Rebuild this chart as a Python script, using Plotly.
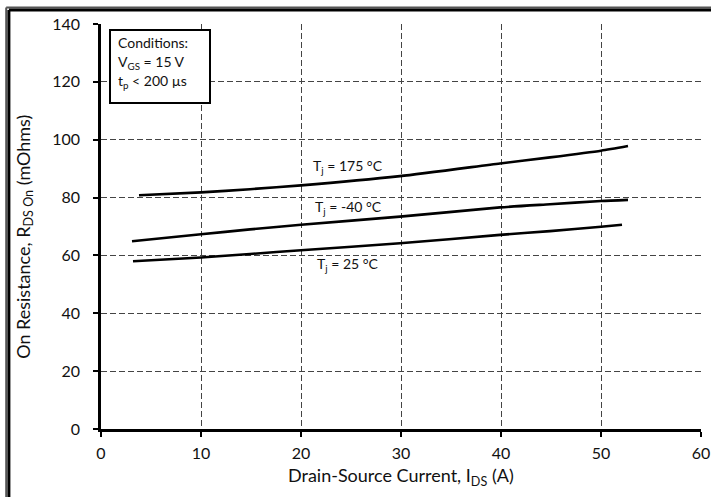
import plotly.graph_objects as go

# On-resistance vs drain-source current at three junction temperatures
i_175 = [3.8, 10, 14.9, 20, 29.9, 39.9, 44.9, 50, 52.7]
r_175 = [80.8, 81.8, 82.9, 84.2, 87.4, 91.8, 93.9, 96.2, 97.8]

i_m40 = [3.1, 10, 14.9, 20, 29.9, 39.9, 44.9, 50, 52.7]
r_m40 = [64.9, 67.3, 69.0, 70.6, 73.4, 76.6, 77.7, 78.8, 79.2]

i_25 = [3.2, 10, 14.9, 20, 29.9, 39.9, 44.9, 50, 52.1]
r_25 = [58.0, 59.3, 60.5, 61.8, 64.2, 67.1, 68.4, 69.9, 70.6]

x_ticks = [0, 10, 20, 30, 40, 50, 60]
y_ticks = [0, 20, 40, 60, 80, 100, 120, 140]

FONT = "Lato"
INK = "#111111"

fig = go.Figure()
for xs, ys in [(i_175, r_175), (i_m40, r_m40), (i_25, r_25)]:
    fig.add_trace(go.Scatter(
        x=xs, y=ys, mode="lines",
        line=dict(color="black", width=2.6, shape="spline", smoothing=0.6),
        showlegend=False, hoverinfo="skip"))

axis_common = dict(
    showline=True, linecolor="black", linewidth=2.5,
    ticks="outside", ticklen=5, tickwidth=2, tickcolor="black",
    showgrid=True, gridcolor="#444444", gridwidth=1, griddash="6px,3px",
    zeroline=False, automargin=False,
    tickfont=dict(family=FONT, size=16, color=INK),
)

fig.update_xaxes(range=[0, 60], tickvals=x_ticks, ticklabelstandoff=3, **axis_common)
fig.update_yaxes(range=[0, 140], tickvals=y_ticks, ticklabelstandoff=10, **axis_common)

# Axis titles
fig.add_annotation(
    xref="paper", yref="paper", x=-0.128, y=0.475, textangle=-90,
    xanchor="center", yanchor="middle",
    text="On Resistance, R<sub>DS On</sub> (mOhms)", showarrow=False,
    font=dict(family=FONT, size=18, color=INK))
fig.add_annotation(
    xref="paper", yref="paper", x=0.5, y=-0.117,
    xanchor="center", yanchor="middle",
    text="Drain-Source Current, I<sub>DS</sub> (A)", showarrow=False,
    font=dict(family=FONT, size=18, color=INK))

# Curve labels
for txt, yv in [("T<sub>j</sub> = 175 °C", 90.6),
                ("T<sub>j</sub> = -40 °C", 76.7),
                ("T<sub>j</sub> = 25 °C", 57.0)]:
    fig.add_annotation(x=24.7, y=yv, text=txt, showarrow=False,
                       font=dict(family=FONT, size=14, color=INK))

# Test conditions box
fig.add_shape(type="rect", xref="x", yref="y", x0=0.9, x1=10.9, y0=112.7, y1=137.9,
              line=dict(color="black", width=2), fillcolor="white", layer="above")
for txt, yv in [("Conditions:", 133.5),
                ("V<sub>GS</sub> = 15 V", 126.6),
                ("t<sub>p</sub> < 200 µs", 120.2)]:
    fig.add_annotation(x=1.5, y=yv, text=txt, showarrow=False, xanchor="left",
                       font=dict(family=FONT, size=14, color=INK))

# Outer frame: top and left edges, kept inside the page
PX_R = 610 / 600
PY_B = -68 / 405
for color, width, fx, fy in [("#555555", 2, -0.158, 1.041), ("black", 3, -0.1535, 1.0345)]:
    fig.add_shape(type="line", xref="paper", yref="paper",
                  x0=fx, x1=PX_R, y0=fy, y1=fy,
                  line=dict(color=color, width=width), layer="above")
    fig.add_shape(type="line", xref="paper", yref="paper",
                  x0=fx, x1=fx, y0=fy, y1=PY_B,
                  line=dict(color=color, width=width), layer="above")

fig.update_layout(
    width=711, height=497,
    margin=dict(l=101, r=10, t=24, b=68),
    paper_bgcolor="white", plot_bgcolor="white",
    font=dict(family=FONT, color=INK),
)

fig.write_html("out.html")
